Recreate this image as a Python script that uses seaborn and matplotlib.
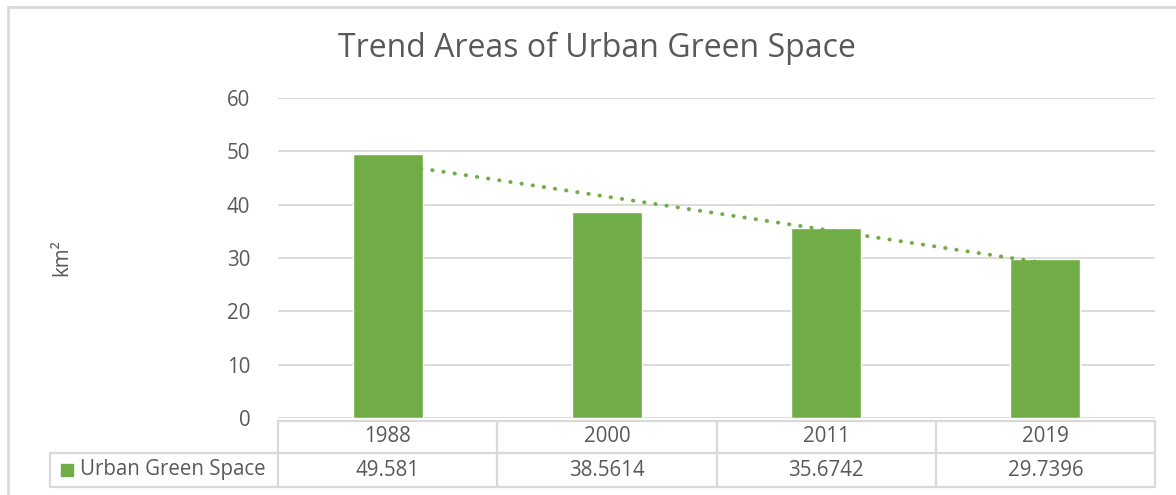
import numpy as np
import pandas as pd
import matplotlib
matplotlib.use("Agg")
import matplotlib.pyplot as plt
import seaborn as sns
from matplotlib.lines import Line2D
from matplotlib.patches import Rectangle

# data
years = ["1988", "2000", "2011", "2019"]
green_space = [49.581, 38.5614, 35.6742, 29.7396]
value_labels = ["49.581", "38.5614", "35.6742", "29.7396"]
series_name = "Urban Green Space"

sns.set_style("white")
plt.rcParams["font.family"] = ["Open Sans", "DejaVu Sans"]

GREEN = "#70AD47"
GREY_TXT = "#595959"
GRID = "#D9D9D9"
FS = 14.8

W, H = 1176, 495
fig = plt.figure(figsize=(W / 100, H / 100), dpi=100)

def fx(px):
    return px / W

def fy(py):
    return 1 - py / H

ax_l, ax_r, ax_t, ax_b = 278, 1155, 98, 418
ax = fig.add_axes([fx(ax_l), fy(ax_b), fx(ax_r - ax_l), fy(ax_t) - fy(ax_b)])

df = pd.DataFrame({"year": years, "area": green_space})
sns.barplot(data=df, x="year", y="area", color=GREEN, saturation=1, width=0.32, ax=ax, zorder=2)

# linear trendline
xs = np.arange(len(years))
k, b = np.polyfit(xs, green_space, 1)
ax.plot(xs, k * xs + b, color=GREEN, lw=2.8, linestyle=(0, (0.1, 2.8)),
        dash_capstyle="round", zorder=3)

ax.set_ylim(0, 60)
ax.set_xlim(-0.5, len(years) - 0.5)
ax.set_yticks(range(0, 61, 10))
ax.yaxis.grid(True, color=GRID, lw=1.3, zorder=0)
ax.set_axisbelow(True)
for s in ax.spines.values():
    s.set_visible(False)
ax.set_xticks([])
ax.set_xlabel("")
ax.set_ylabel("")
ax.tick_params(axis="y", length=0, pad=20, labelsize=FS, labelcolor=GREY_TXT)

fig.text(fx(597), fy(48), "Trend Areas of Urban Green Space", ha="center", va="center",
         fontsize=23, color=GREY_TXT)
fig.text(fx(62), fy(258), "km²", rotation=90, ha="center", va="center",
         fontsize=FS, color=GREY_TXT)

# chart border (top and left)
fig.add_artist(Line2D([fx(8), 1], [fy(7), fy(7)], color=GRID, lw=2))
fig.add_artist(Line2D([fx(8), fx(8)], [fy(7), 0], color=GRID, lw=2))

# data table
col_edges = np.linspace(ax_l, ax_r, len(years) + 1)
r0, r1, r2 = 421, 453, 487
leg_l = 50
tbl = dict(color=GRID, lw=1.6)
fig.add_artist(Line2D([fx(ax_l), fx(ax_r)], [fy(r0), fy(r0)], **tbl))
fig.add_artist(Line2D([fx(leg_l), fx(ax_r)], [fy(r1), fy(r1)], **tbl))
fig.add_artist(Line2D([fx(leg_l), fx(ax_r)], [fy(r2), fy(r2)], **tbl))
fig.add_artist(Line2D([fx(leg_l), fx(leg_l)], [fy(r1), fy(r2)], **tbl))
for e in col_edges:
    fig.add_artist(Line2D([fx(e), fx(e)], [fy(r0), fy(r2)], **tbl))
for i, (yr, lab) in enumerate(zip(years, value_labels)):
    cx = (col_edges[i] + col_edges[i + 1]) / 2
    fig.text(fx(cx), fy((r0 + r1) / 2), yr, ha="center", va="center", fontsize=FS, color=GREY_TXT)
    fig.text(fx(cx), fy((r1 + r2) / 2), lab, ha="center", va="center", fontsize=FS, color=GREY_TXT)
fig.add_artist(Rectangle((fx(61), fy(476)), fx(12), fy(464) - fy(476), color=GREEN,
                         transform=fig.transFigure))
fig.text(fx(80), fy((r1 + r2) / 2), series_name, ha="left", va="center", fontsize=FS, color=GREY_TXT)

fig.savefig("out.png", dpi=100)
